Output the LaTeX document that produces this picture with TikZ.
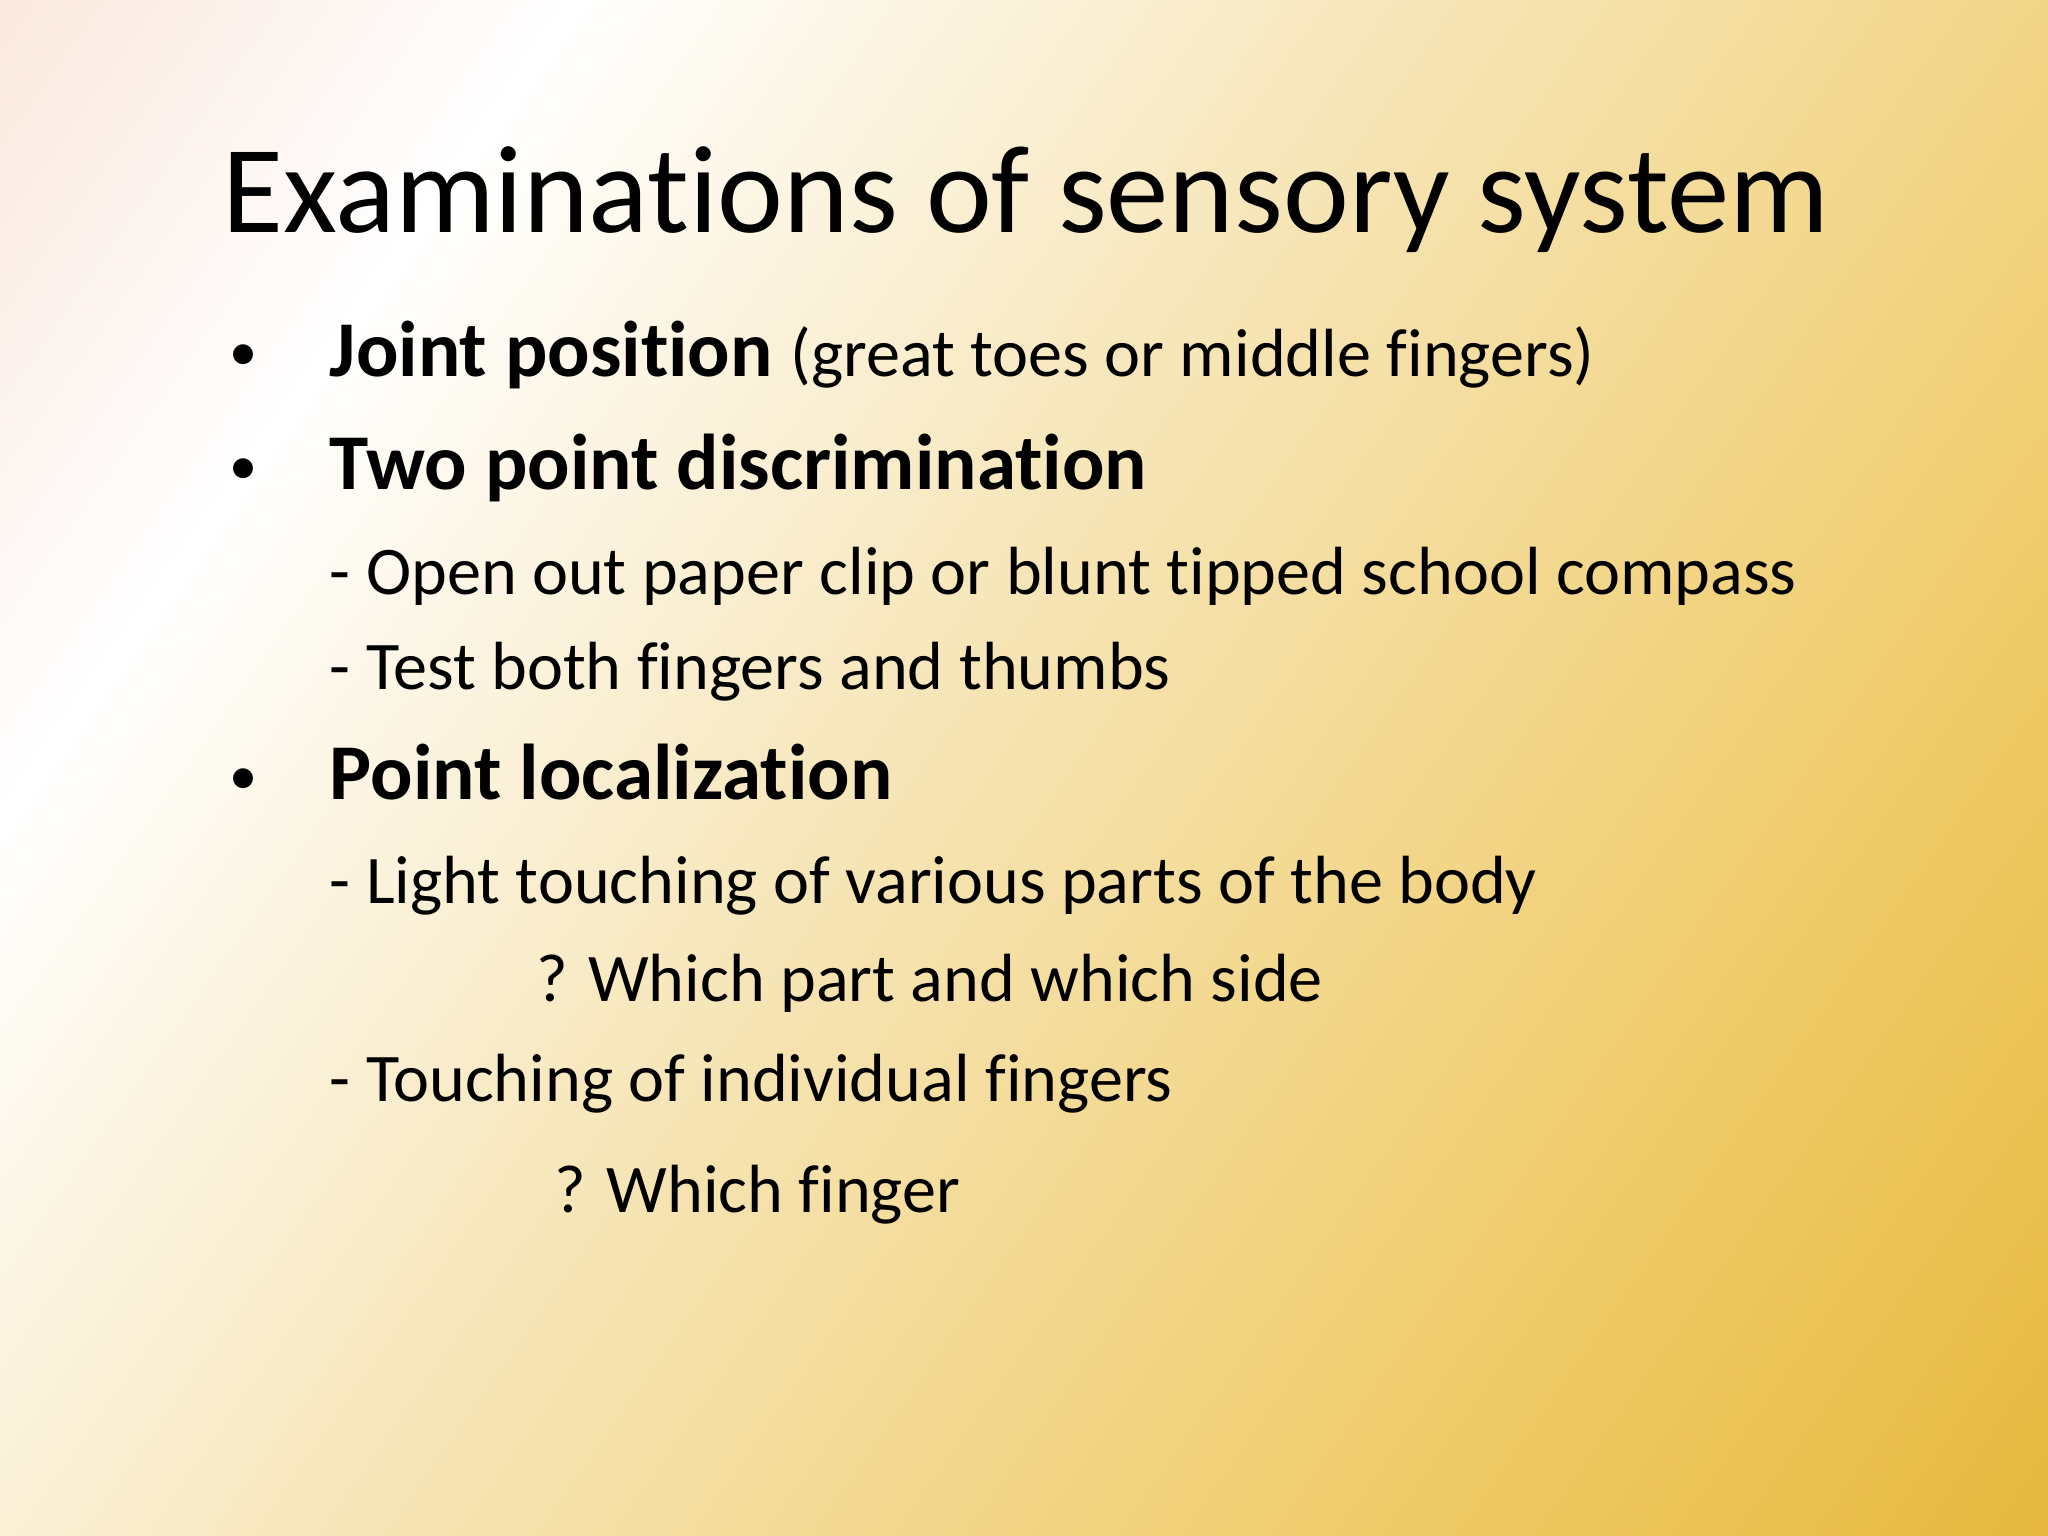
\documentclass[tikz,border=0pt]{standalone}
\usepackage{fontspec}
\setmainfont[Ligatures=NoCommon]{Carlito}
\definecolor{peach}{HTML}{F4CDB6}
\definecolor{lgold}{HTML}{F6E4B4}
\definecolor{mgold}{HTML}{EFCB68}
\definecolor{dgold}{HTML}{DCA412}
\pgfdeclarehorizontalshading{slidebg}{100bp}{color(0bp)=(peach); color(28bp)=(white); color(48bp)=(lgold); color(70bp)=(mgold); color(100bp)=(dgold)}
\tikzset{
  title/.style={anchor=base west, inner sep=0pt, font=\fontsize{35.5}{40}\selectfont},
  body/.style={anchor=base west, inner sep=0pt, font=\fontsize{19.4}{23}\selectfont},
  head/.style={anchor=base west, inner sep=0pt, font=\fontsize{22.5}{26}\selectfont\bfseries},
  bul/.style={anchor=base west, inner sep=0pt, font=\fontsize{16}{20}\selectfont},
}
\begin{document}
\begin{tikzpicture}[x=0.013061cm,y=-0.013061cm]
\useasboundingbox (0,0) rectangle (1568,1176);
\shade[shading=slidebg, shading angle=-35] (0,0) rectangle (1568,1176);
\node[title] (t) at (170,178) {Examinations of sensory system};
\node[bul] (b1) at (175,284) {•};
\node[head] (l1) at (252,288) {Joint position \mdseries\fontsize{19.4}{23}\selectfont(great toes or middle fingers)};
\node[bul] (b2) at (175,371) {•};
\node[head] (l2) at (252,375) {Two point discrimination};
\node[body] (l3) at (252,455) {- Open out paper clip or blunt tipped school compass};
\node[body] (l4) at (252,528) {- Test both fingers and thumbs};
\node[bul] (b3) at (175,608) {•};
\node[head] (l5) at (252,612) {Point localization};
\node[body] (l6) at (252,692) {- Light touching of various parts of the body};
\node[body] (l7) at (410,767) {? Which part and which side};
\node[body] (l8) at (252,843) {- Touching of individual fingers};
\node[body] (l9) at (424,928) {? Which finger};
\end{tikzpicture}
\end{document}
